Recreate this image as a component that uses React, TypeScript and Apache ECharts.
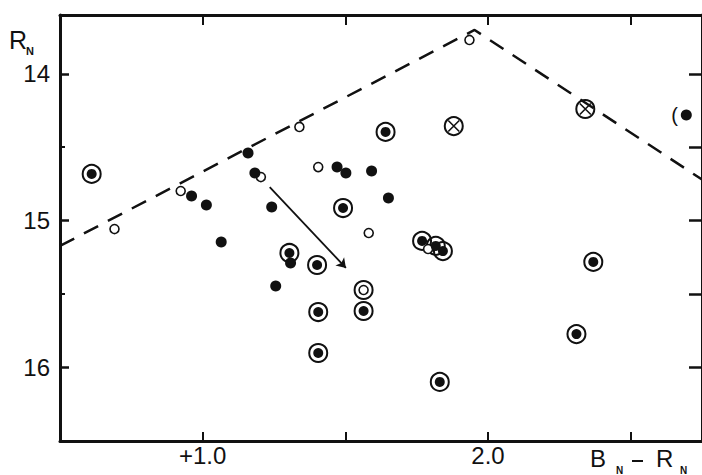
import React, { useEffect, useRef } from "react";
import * as echarts from "echarts";

// [B_N - R_N, R_N]
const filledStars: [number, number][] = [
  [0.961, 14.832], [1.013, 14.893], [1.159, 14.539], [1.183, 14.676],
  [1.242, 14.907], [1.065, 15.145], [1.308, 15.288], [1.256, 15.445],
  [1.471, 14.635], [1.502, 14.676], [1.592, 14.662], [1.651, 14.846],
];
const openStars: [number, number][] = [
  [0.691, 15.057], [0.923, 14.798], [1.204, 14.703], [1.339, 14.362],
  [1.405, 14.635], [1.582, 15.084], [1.935, 13.77], [1.79, 15.193],
];
const circledFilled: [number, number][] = [
  [0.611, 14.682], [1.492, 14.914], [1.641, 14.396], [1.304, 15.22],
  [1.401, 15.302], [1.405, 15.622], [1.405, 15.901], [1.564, 15.615],
  [1.769, 15.138], [1.817, 15.172], [1.842, 15.207], [2.369, 15.281],
  [2.31, 15.772], [1.831, 16.098],
];
const circledOpen: [number, number][] = [[1.564, 15.472]];
const crossedStars: [number, number][] = [[1.88, 14.356], [2.341, 14.24]];
const bracketedStar: [number, number][] = [[2.695, 14.281]];
const boundaryLine: [number, number][] = [[0.5, 15.172], [1.953, 13.702], [2.75, 14.72]];
const arrowPath: [number, number][] = [[1.235, 14.771], [1.502, 15.322]];

const yTickValues = [14, 15, 16];
const yMinorTicks = [14.5, 15.5];
const yRightTicks = [14, 14.5, 15, 15.5, 16];
const xTickValues = [1, 1.5, 2, 2.5];
const xLabelValues = [1, 2];
const xLabelTexts = ["+1.0", "2.0"];

const INK = "#111";
const FONT = "Liberation Sans";

export default function App() {
  const ref = useRef<HTMLDivElement>(null);
  useEffect(() => {
    const chart = echarts.init(ref.current!, null, { renderer: "svg" });
    const hiddenLabel = { show: false };
    chart.setOption({
      animation: false,
      backgroundColor: "#fff",
      grid: { left: 60, top: 15, width: 649, height: 426 },
      xAxis: [
        {
          type: "value", min: 0.5, max: 2.75, position: "bottom",
          axisLine: { onZero: false, lineStyle: { width: 3, color: INK } },
          axisTick: { show: true, inside: true, length: 9, customValues: xTickValues, lineStyle: { width: 2, color: INK } },
          axisLabel: {
            show: true, customValues: xLabelValues, margin: 2, fontSize: 24, fontFamily: FONT, color: INK,
            formatter: (v: number) => xLabelTexts[xLabelValues.indexOf(v)] ?? "",
          },
          splitLine: { show: false },
        },
        {
          type: "value", min: 0.5, max: 2.75, position: "top",
          axisLine: { onZero: false, lineStyle: { width: 3, color: INK } },
          axisTick: { show: true, inside: true, length: 10, customValues: xTickValues, lineStyle: { width: 2, color: INK } },
          axisLabel: hiddenLabel,
          splitLine: { show: false },
        },
      ],
      yAxis: [
        {
          type: "value", min: 13.6, max: 16.5, inverse: true, position: "left",
          axisLine: { onZero: false, lineStyle: { width: 3, color: INK } },
          axisTick: { show: true, inside: true, length: 9, customValues: yTickValues, lineStyle: { width: 2.5, color: INK } },
          axisLabel: { show: true, customValues: yTickValues, margin: 10, fontSize: 24, fontFamily: FONT, color: INK },
          splitLine: { show: false },
        },
        {
          type: "value", min: 13.6, max: 16.5, inverse: true, position: "left",
          axisLine: { show: false },
          axisTick: { show: true, inside: true, length: 5, customValues: yMinorTicks, lineStyle: { width: 2, color: INK } },
          axisLabel: hiddenLabel,
          splitLine: { show: false },
        },
        {
          type: "value", min: 13.6, max: 16.5, inverse: true, position: "right",
          axisLine: { onZero: false, lineStyle: { width: 3, color: INK } },
          axisTick: { show: true, inside: true, length: 13, customValues: yRightTicks, lineStyle: { width: 2.5, color: INK } },
          axisLabel: hiddenLabel,
          splitLine: { show: false },
        },
      ],
      series: [
        {
          type: "line", data: boundaryLine, symbol: "none", silent: true,
          lineStyle: { type: [16, 11], width: 2.5, color: INK },
        },
        {
          type: "lines", coordinateSystem: "cartesian2d", silent: true,
          data: [{ coords: arrowPath }],
          symbol: ["none", "arrow"], symbolSize: 9,
          lineStyle: { color: INK, width: 1.8, opacity: 1 },
        },
        {
          type: "scatter", data: [...circledFilled, ...circledOpen, ...crossedStars], symbolSize: 18,
          itemStyle: { color: "rgba(0,0,0,0)", borderColor: INK, borderWidth: 2, opacity: 1 },
        },
        {
          type: "scatter", data: [...openStars, ...circledOpen], symbolSize: 9,
          itemStyle: { color: "#fff", borderColor: INK, borderWidth: 1.6, opacity: 1 },
        },
        { type: "scatter", data: filledStars, symbolSize: 11, itemStyle: { color: INK, opacity: 1 } },
        { type: "scatter", data: circledFilled, symbolSize: 10, itemStyle: { color: INK, opacity: 1 } },
        {
          type: "scatter", data: crossedStars, symbol: "path://M0,0L10,10M10,0L0,10", symbolSize: 11,
          itemStyle: { color: "none", borderColor: INK, borderWidth: 1.6, opacity: 1 },
        },
        {
          type: "scatter", data: bracketedStar, symbolSize: 11, itemStyle: { color: INK, opacity: 1 },
          label: {
            show: true, formatter: "(", position: "left", distance: 3, fontSize: 20, fontFamily: FONT,
            color: INK, textBorderWidth: 0, opacity: 1,
          },
        },
      ],
      graphic: [
        { type: "text", x: 9, y: 27, style: { text: "R", fontSize: 25, fontFamily: FONT, fill: INK, verticalAlign: "top" } },
        { type: "text", x: 26, y: 45, style: { text: "N", fontSize: 11, fontWeight: "bold", fontFamily: FONT, fill: INK, verticalAlign: "top" } },
        { type: "text", x: 590, y: 446, style: { text: "B", fontSize: 24, fontFamily: FONT, fill: INK, verticalAlign: "top" } },
        { type: "text", x: 616, y: 465, style: { text: "N", fontSize: 10, fontWeight: "bold", fontFamily: FONT, fill: INK, verticalAlign: "top" } },
        { type: "line", shape: { x1: 632, y1: 461, x2: 643, y2: 461 }, style: { stroke: INK, lineWidth: 2 } },
        { type: "text", x: 656, y: 446, style: { text: "R", fontSize: 24, fontFamily: FONT, fill: INK, verticalAlign: "top" } },
        { type: "text", x: 680, y: 465, style: { text: "N", fontSize: 10, fontWeight: "bold", fontFamily: FONT, fill: INK, verticalAlign: "top" } },
      ],
    });
    return () => chart.dispose();
  }, []);
  return <div ref={ref} style={{ width: 702, height: 475, position: "absolute", left: 0, top: 0 }} />;
}
